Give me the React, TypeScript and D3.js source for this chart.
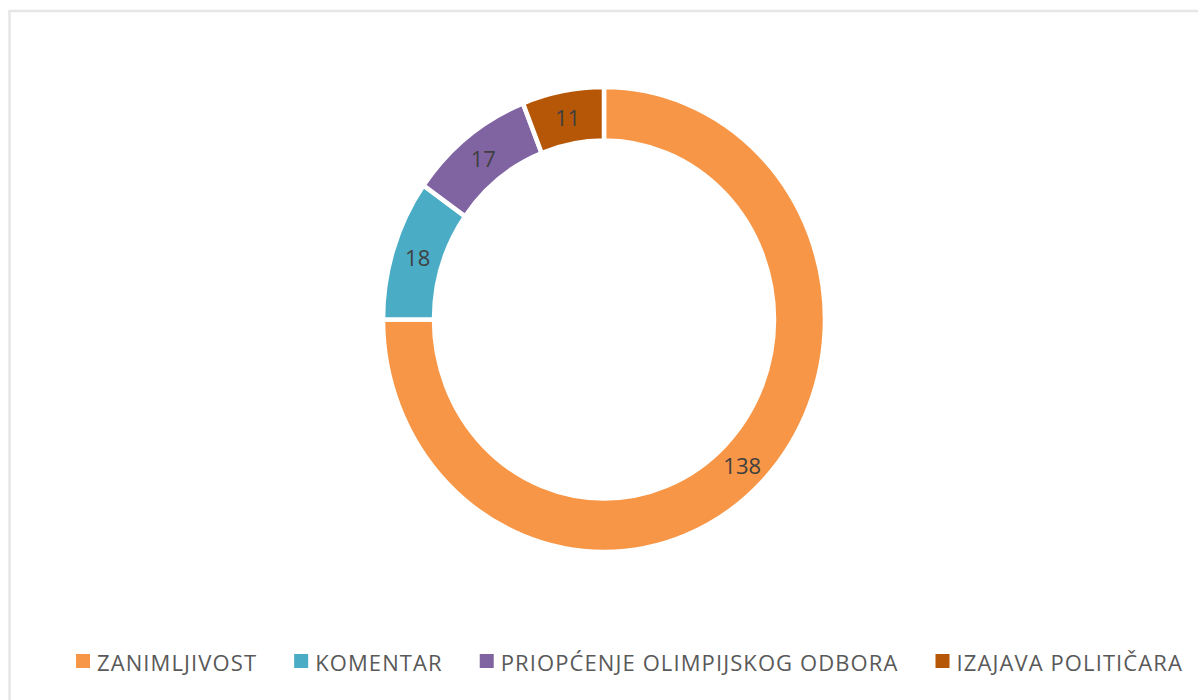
import React, { useEffect, useRef } from "react";
import * as d3 from "d3";

const categories = ["ZANIMLJIVOST", "KOMENTAR", "PRIOPĆENJE OLIMPIJSKOG ODBORA", "IZAJAVA POLITIČARA"];
const values = [138, 18, 17, 11];
const colors = ["#F79646", "#4BACC6", "#8064A2", "#B65708"];

const W = 1198;
const H = 700;
const CX = 604;
const CY = 319.5;
const R_OUT = 221;
const R_IN = 170;
const Y_STRETCH = 1.052;
const FONT = "'Open Sans', 'Segoe UI', sans-serif";

export default function App() {
  const ref = useRef<SVGSVGElement | null>(null);

  useEffect(() => {
    const svg = d3.select(ref.current);
    svg.selectAll("*").remove();

    svg
      .append("rect")
      .attr("x", 9.5)
      .attr("y", 11)
      .attr("width", W)
      .attr("height", H)
      .attr("fill", "#ffffff")
      .attr("stroke", "#e6e6e6")
      .attr("stroke-width", 2.5);

    const data = categories.map((c, i) => ({ c, v: values[i], color: colors[i] }));
    const pie = d3
      .pie<any>()
      .sort(null)
      .value((d: any) => d.v)
      .startAngle(0)
      .endAngle(2 * Math.PI);
    const arcs = pie(data);
    const arc = d3.arc<any>().innerRadius(R_IN).outerRadius(R_OUT);

    const g = svg
      .append("g")
      .attr("transform", `translate(${CX},${CY}) scale(1,${Y_STRETCH})`);
    g.selectAll("path")
      .data(arcs)
      .enter()
      .append("path")
      .attr("d", arc as any)
      .attr("fill", (d: any) => d.data.color)
      .attr("stroke", "#ffffff")
      .attr("stroke-width", 4.5);

    const lg = svg.append("g");
    lg.selectAll("text")
      .data(arcs)
      .enter()
      .append("text")
      .attr("x", (d: any) => CX + arc.centroid(d)[0])
      .attr("y", (d: any) => CY + arc.centroid(d)[1] * Y_STRETCH)
      .attr("text-anchor", "middle")
      .attr("dominant-baseline", "central")
      .attr("font-family", FONT)
      .attr("font-size", 22)
      .attr("fill", "#404040")
      .text((d: any) => String(d.data.v));

    // legend
    const leg = svg.append("g");
    const sq = 14;
    const legY = 662;
    let x = 76;
    data.forEach((d) => {
      leg
        .append("rect")
        .attr("x", x)
        .attr("y", legY - sq / 2 - 1)
        .attr("width", sq)
        .attr("height", sq)
        .attr("fill", d.color);
      const t = leg
        .append("text")
        .attr("x", x + sq + 7)
        .attr("y", legY)
        .attr("dominant-baseline", "central")
        .attr("font-family", FONT)
        .attr("font-size", 22)
        .attr("letter-spacing", 1.1)
        .attr("fill", "#595959")
        .text(d.c);
      const w = (t.node() as SVGTextElement).getComputedTextLength();
      x = x + sq + 7 + w + 37;
    });
  }, []);

  return (
    <svg
      ref={ref}
      width={W}
      height={H}
      style={{ position: "absolute", left: 0, top: 0, display: "block" }}
    />
  );
}
